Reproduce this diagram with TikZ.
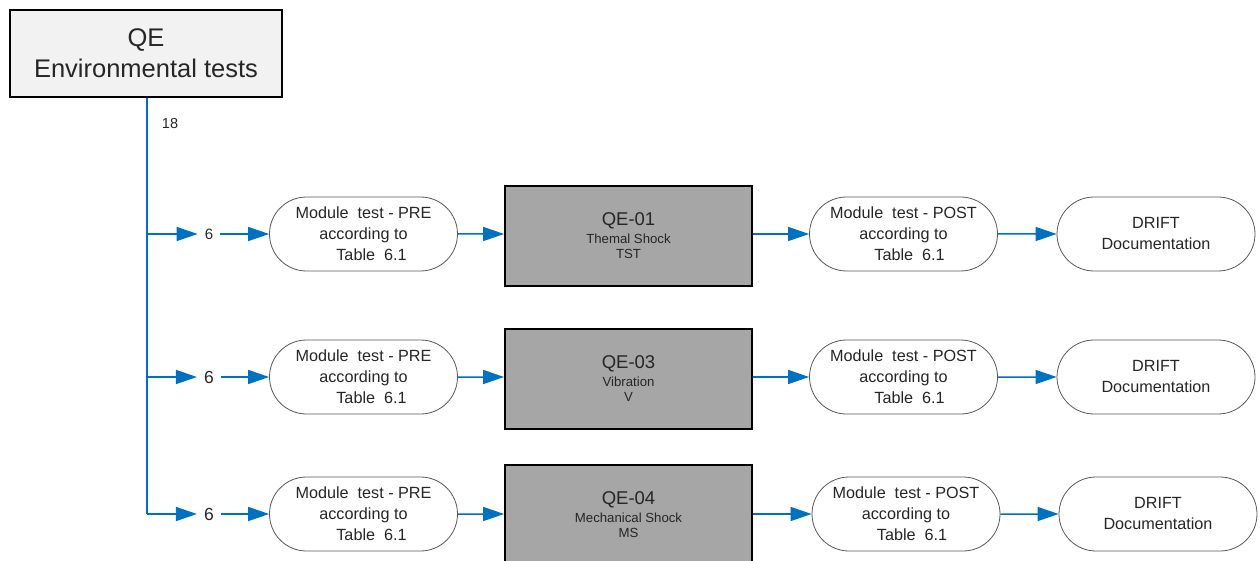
\documentclass[tikz,border=0pt]{standalone}
\usepackage{fontspec}
\setmainfont{Liberation Sans}
\usetikzlibrary{arrows.meta,shapes.misc}
\definecolor{flowblue}{HTML}{0070C0}
\definecolor{boxgray}{HTML}{A6A6A6}
\definecolor{titlegray}{HTML}{F2F2F2}
\definecolor{txt}{HTML}{262626}
\definecolor{rimgray}{HTML}{595959}
\tikzset{
  flow/.style={draw=flowblue,line width=1.5pt,-{Triangle[length=21pt,width=14pt]}},
  trunk/.style={draw=flowblue,line width=1.5pt},
  stadium/.style={rounded rectangle,draw=rimgray,line width=0.8pt,fill=white,
    minimum width=188pt,minimum height=74pt,inner sep=0pt,align=center,
    text=txt,font=\fontsize{16.2}{21}\selectfont},
  testbox/.style={rectangle,draw=black,line width=1.8pt,fill=boxgray,
    minimum width=247pt,minimum height=100pt,inner sep=0pt,align=center,
    text=txt,font=\fontsize{13.2}{15}\selectfont},
  titlebox/.style={rectangle,draw=black,line width=1.8pt,fill=titlegray,
    minimum width=272pt,minimum height=87pt,inner sep=0pt,align=center,
    text=txt,font=\fontsize{25.5}{31}\selectfont},
  count/.style={inner xsep=7pt,inner ysep=1pt,text=txt},
}
\begin{document}
\begin{tikzpicture}[x=1pt,y=-1pt]
\useasboundingbox (0,0) rectangle (1260,561);
\node[titlebox] (qe) at (146,53.5) {QE\\Environmental tests};
\node[count,font=\fontsize{14.5}{16}\selectfont] (n18) at (170,124) {18};
% row positions
\coordinate (j1) at (147,234);
\coordinate (j2) at (147,377);
\coordinate (j3) at (147,514);
\draw[trunk] (qe.south -| j1) -- (j3);
% counts
\node[count,font=\fontsize{15}{17}\selectfont] (six1) at (209,234) {6};
\node[count,font=\fontsize{17.5}{19}\selectfont] (six2) at (209,377) {6};
\node[count,font=\fontsize{17.5}{19}\selectfont] (six3) at (209,514) {6};
% pre
\node[stadium] (pre1) at (363.5,234) {Module\ \ test - PRE\\according to\\\hspace*{16pt}Table\ \ 6.1};
\node[stadium] (pre2) at (363.5,377) {Module\ \ test - PRE\\according to\\\hspace*{16pt}Table\ \ 6.1};
\node[stadium] (pre3) at (363.5,514) {Module\ \ test - PRE\\according to\\\hspace*{16pt}Table\ \ 6.1};
% test boxes
\node[testbox] (t1) at (628.5,236) {{\fontsize{18.5}{18}\selectfont QE-01}\\[3pt]Themal Shock\\TST};
\node[testbox] (t2) at (628.5,379) {{\fontsize{18.5}{18}\selectfont QE-03}\\[3pt]Vibration\\V};
\node[testbox] (t3) at (628.5,515) {{\fontsize{18.5}{18}\selectfont QE-04}\\[3pt]Mechanical Shock\\MS};
% post
\node[stadium] (post1) at (903.5,234) {Module\ \ test - POST\\according to\\\hspace*{12pt}Table\ \ 6.1};
\node[stadium] (post2) at (903.5,377) {Module\ \ test - POST\\according to\\\hspace*{12pt}Table\ \ 6.1};
\node[stadium] (post3) at (906,514) {Module\ \ test - POST\\according to\\\hspace*{12pt}Table\ \ 6.1};
% drift
\node[stadium,minimum width=198pt] (d1) at (1156,234) {DRIFT\\Documentation};
\node[stadium,minimum width=198pt] (d2) at (1156,377) {DRIFT\\Documentation};
\node[stadium,minimum width=198pt] (d3) at (1158,514) {DRIFT\\Documentation};
% connectors
\foreach \i in {1,2,3}{
  \draw[flow] (j\i) -- (six\i);
  \draw[flow] (six\i) -- (pre\i);
  \draw[flow] (pre\i) -- (t\i.west |- pre\i);
  \draw[flow] (t\i.east |- post\i) -- (post\i);
  \draw[flow] (post\i) -- (d\i);
}
\end{tikzpicture}
\end{document}
